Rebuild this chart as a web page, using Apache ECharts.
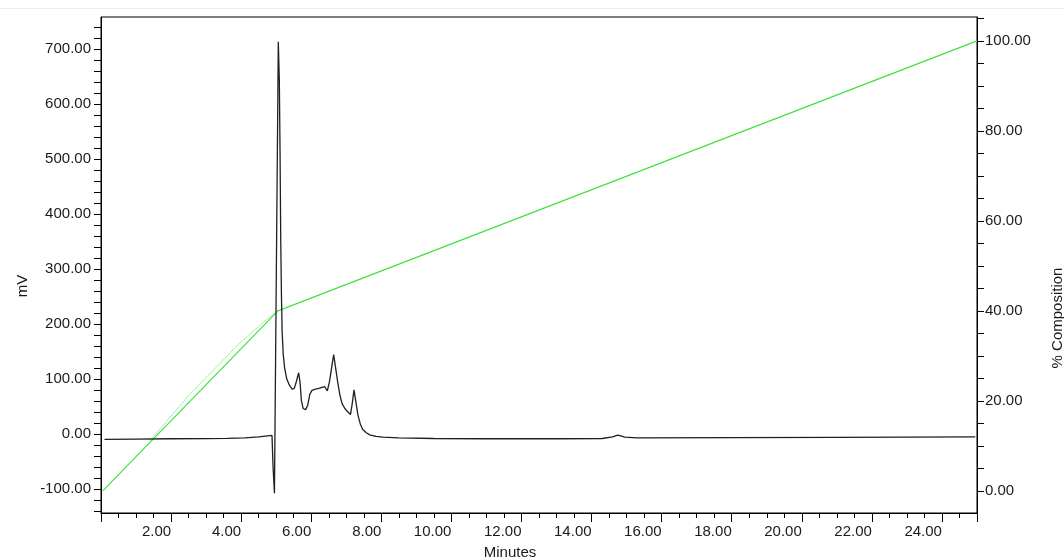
<!DOCTYPE html>
<html>
<head>
<meta charset="utf-8">
<script src="https://cdn.jsdelivr.net/npm/echarts@6/dist/echarts.min.js"></script>
<style>
  html, body { margin: 0; padding: 0; background: #fff; }
  #chart { width: 1064px; height: 560px; }
</style>
</head>
<body>
<div id="chart"></div>
<script>
// detector trace, [minutes, mV]
const signal = [
  [0.1, -10], [1.0, -9.5], [2.0, -9], [3.0, -8.8], [3.6, -8.3], [4.1, -7.2],
  [4.5, -5.5], [4.88, -3], [4.91, -60], [4.95, -108], [4.99, -108],
  [5.06, 713], [5.09, 640], [5.11, 510], [5.13, 350], [5.15, 250],
  [5.17, 185], [5.2, 145], [5.24, 120], [5.3, 100], [5.38, 88], [5.46, 81],
  [5.52, 83], [5.58, 96], [5.64, 111], [5.68, 94], [5.72, 60], [5.77, 46],
  [5.84, 44], [5.9, 52], [5.96, 72], [6.02, 79], [6.1, 81], [6.24, 83],
  [6.38, 86], [6.46, 78], [6.52, 95], [6.64, 144], [6.7, 118], [6.76, 92],
  [6.82, 70], [6.88, 55], [6.96, 46], [7.04, 40], [7.12, 35], [7.17, 55],
  [7.22, 80], [7.27, 60], [7.33, 35], [7.4, 18], [7.47, 8], [7.57, 2],
  [7.67, -2], [7.85, -4.5], [8.05, -6], [8.5, -7.5], [9.5, -8.5],
  [11.0, -9], [13.0, -9], [14.3, -8.5], [14.6, -5.5], [14.75, -2.5],
  [14.95, -6], [15.3, -7.5], [18.0, -7], [21.0, -6.5], [24.95, -5.5]
]

// gradient, [minutes, % composition]
const gradient = [[0.05, 0], [5.05, 40], [25, 100]]
const gradientAlt = [[1.4, 11.2], [2.5, 21.2], [4.0, 33.2], [5.05, 40.2]]

const mvLabels = [-100, 0, 100, 200, 300, 400, 500, 600, 700]
const pctLabels = [0, 20, 40, 60, 80, 100]

const mvTicks = []
for (let v = -140; v <= 740; v += 20) mvTicks.push(v)
const pctTicks = []
for (let v = 0; v <= 105; v += 5) pctTicks.push(v)

const font = 'Liberation Sans, Arial, sans-serif'
const ink = '#1a1a1a'

const chart = echarts.init(document.getElementById('chart'))
const option = {
  animation: false,
  backgroundColor: '#fff',
  grid: {
    left: 101,
    right: 87,
    top: 17,
    bottom: 47,
    show: true,
    borderColor: '#000',
    borderWidth: 1,
  },
  xAxis: {
    type: 'value',
    min: 0,
    max: 25,
    interval: 2,
    axisLine: { onZero: false, lineStyle: { color: '#000', width: 1 } },
    axisTick: { length: 9, lineStyle: { color: '#000' } },
    minorTick: { show: true, splitNumber: 4, length: 5, lineStyle: { color: '#000' } },
    splitLine: { show: false },
    axisLabel: {
      align: 'right',
      margin: 11,
      color: ink,
      fontFamily: font,
      fontSize: 15,
      formatter: (v) => (v === 0 ? '' : v.toFixed(2)),
    },
  },
  yAxis: [
    {
      type: 'value',
      position: 'left',
      min: -144,
      max: 758,
      axisLine: { show: true, onZero: false, lineStyle: { color: '#000', width: 1 } },
      axisTick: { show: true, length: 7, customValues: mvTicks, lineStyle: { color: '#000' } },
      splitLine: { show: false },
      axisLabel: {
        margin: 10,
        color: ink,
        fontFamily: font,
        fontSize: 15,
        customValues: mvLabels,
        formatter: (v) => v.toFixed(2),
      },
    },
    {
      type: 'value',
      position: 'right',
      min: -4.9,
      max: 105.3,
      axisLine: { show: true, onZero: false, lineStyle: { color: '#000', width: 1 } },
      axisTick: { show: true, length: 7, customValues: pctTicks, lineStyle: { color: '#000' } },
      splitLine: { show: false },
      axisLabel: {
        margin: 8,
        color: ink,
        fontFamily: font,
        fontSize: 15,
        customValues: pctLabels,
        formatter: (v) => v.toFixed(2),
      },
    },
  ],
  graphic: [
    {
      type: 'line',
      shape: { x1: 0, y1: 8.5, x2: 1064, y2: 8.5 },
      style: { stroke: '#ececec', lineWidth: 1 },
    },
    {
      type: 'text',
      x: 23,
      y: 286,
      rotation: Math.PI / 2,
      style: { text: 'mV', fill: ink, font: '15px ' + font, align: 'center', verticalAlign: 'middle' },
    },
    {
      type: 'text',
      x: 1058,
      y: 318,
      rotation: Math.PI / 2,
      style: { text: '% Composition', fill: ink, font: '15px ' + font, align: 'center', verticalAlign: 'middle' },
    },
    {
      type: 'text',
      x: 510,
      y: 553,
      style: { text: 'Minutes', fill: ink, font: '15px ' + font, align: 'center', verticalAlign: 'middle' },
    },
  ],
  series: [
    {
      type: 'line',
      yAxisIndex: 1,
      data: gradientAlt,
      showSymbol: false,
      lineStyle: { color: '#a8eea8', width: 1 },
      silent: true,
    },
    {
      type: 'line',
      yAxisIndex: 1,
      data: gradient,
      showSymbol: false,
      lineStyle: { color: '#3fe23f', width: 1.2 },
      silent: true,
    },
    {
      type: 'line',
      yAxisIndex: 0,
      data: signal,
      showSymbol: false,
      lineStyle: { color: '#1f1f1f', width: 1.3 },
      silent: true,
    },
  ],
}
chart.setOption(option)
</script>
</body>
</html>
